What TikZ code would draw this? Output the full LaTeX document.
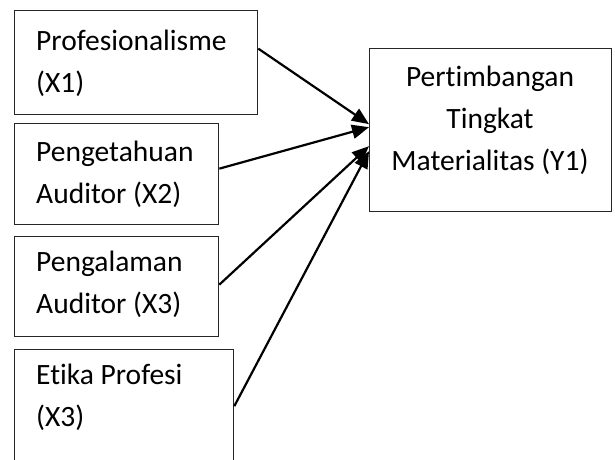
\documentclass[tikz,border=0pt]{standalone}
\usepackage{fontspec}
\setmainfont[Ligatures=NoCommon]{Carlito}
\usetikzlibrary{arrows.meta}
\begin{document}
\begin{tikzpicture}[x=1pt,y=-1pt,
  box/.style={draw=black!85, line width=1.3pt, rectangle, inner sep=0pt, anchor=north west},
  lbl/.style={inner sep=0pt, font=\fontsize{29.5}{42}\selectfont},
  conn/.style={line width=2.2pt, -{Triangle[length=17pt,width=14pt]}}]
\useasboundingbox (0,0) rectangle (615,459);
\node[box, minimum width=243pt, minimum height=104pt] (b1) at (14,10) {};
\node[box, minimum width=204pt, minimum height=101pt] (b2) at (14,123) {};
\node[box, minimum width=204pt, minimum height=100pt] (b3) at (14,236) {};
\node[box, minimum width=219pt, minimum height=113pt] (b4) at (14,349) {};
\node[box, minimum width=242pt, minimum height=163pt] (y) at (369,48) {};
\node[lbl, anchor=base west, align=left] (t1) at (36,92) {Profesionalisme\\(X1)};
\node[lbl, anchor=base west, align=left] (t2) at (36,203) {Pengetahuan\\Auditor (X2)};
\node[lbl, anchor=base west, align=left] (t3) at (36,313) {Pengalaman\\Auditor (X3)};
\node[lbl, anchor=base west, align=left] (t4) at (36,426) {Etika Profesi\\(X3)};
\node[lbl, anchor=base, align=center] (ty) at (490,170) {Pertimbangan\\Tingkat\\Materialitas (Y1)};
\draw[conn] ([yshift=14pt]b1.east) -- ([yshift=6pt]y.west);
\draw[conn] ([yshift=5.5pt]b2.east) -- ([yshift=3pt]y.west);
\draw[conn] ([yshift=2pt]b3.east) -- ([yshift=-16pt]y.west);
\draw[conn] (b4.east) -- ([yshift=-21pt]y.west);
\end{tikzpicture}
\end{document}
